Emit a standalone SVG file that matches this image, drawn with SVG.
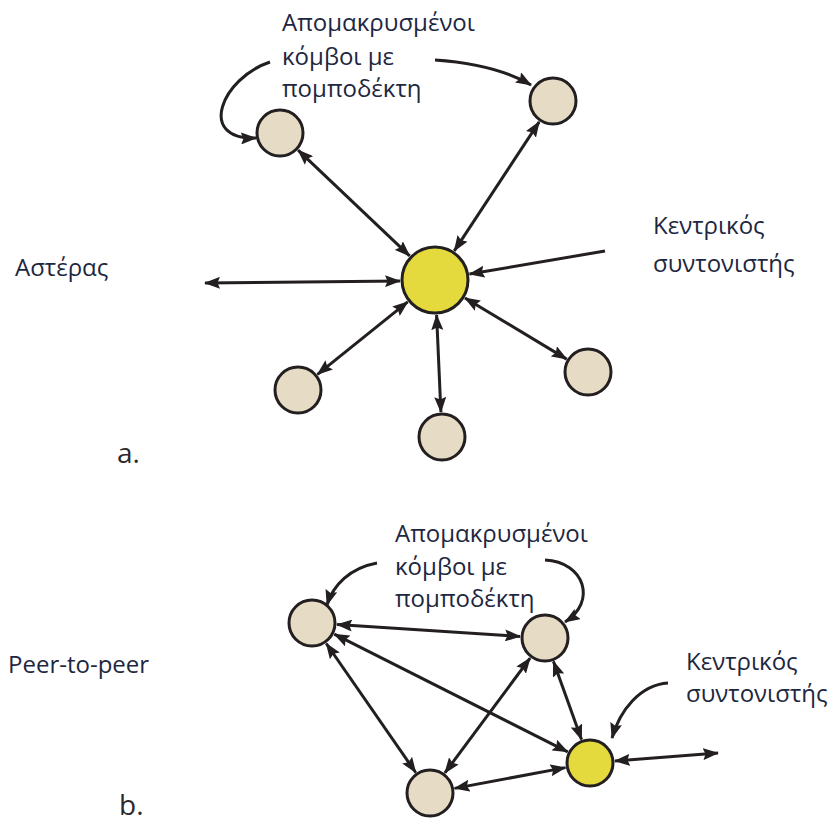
<svg xmlns="http://www.w3.org/2000/svg" width="830" height="823" viewBox="0 0 830 823">
  <style>
    .label { font-family: "Open Sans", "Noto Sans", sans-serif; font-size: 24px; fill: #1e2740; }
    .tag { font-family: "Open Sans", "Noto Sans", sans-serif; font-size: 28px; fill: #2a2a2a; }
    .peer { fill: #e6dbc4; stroke: #231f20; stroke-width: 3; }
    .coord { fill: #e4da3e; stroke: #231f20; stroke-width: 3; }
    .edge { fill: none; stroke: #231f20; stroke-width: 3; marker-end: url(#head); }
    .both { marker-start: url(#head); }
  </style>
  <defs>
    <marker id="head" markerUnits="userSpaceOnUse" markerWidth="16" markerHeight="12" refX="15" refY="6" orient="auto-start-reverse">
      <path d="M0,0 L16,6 L0,12 L2.5,6 z" fill="#231f20"/>
    </marker>
  </defs>
  <rect width="830" height="823" fill="#ffffff"/>

  <!-- connectors -->
  <g id="connectors">
    <!-- a. star -->
    <line class="edge both" x1="409.6" y1="255.9" x2="298.1" y2="150.2"/>
    <line class="edge both" x1="454.3" y1="250.8" x2="539.2" y2="121.9"/>
    <line class="edge both" x1="407.7" y1="301.9" x2="317.5" y2="374.3"/>
    <line class="edge both" x1="436.6" y1="315" x2="440.9" y2="412"/>
    <line class="edge both" x1="465" y1="298" x2="566.6" y2="359.1"/>
    <line class="edge both" x1="400" y1="281" x2="205" y2="283"/>
    <line class="edge" x1="605" y1="251" x2="469.5" y2="274.1"/>
    <path class="edge" d="M270,62 C222,78 196,140 256,138"/>
    <path class="edge" d="M435,60 Q495,64 531,85"/>
    <!-- b. peer-to-peer -->
    <line class="edge both" x1="337" y1="624.6" x2="520" y2="636.4"/>
    <line class="edge both" x1="334.3" y1="634.2" x2="567.7" y2="751.8"/>
    <line class="edge both" x1="326.3" y1="643.5" x2="415.7" y2="772.5"/>
    <line class="edge both" x1="530.1" y1="658.1" x2="444.9" y2="772.9"/>
    <line class="edge both" x1="553.5" y1="661.5" x2="581.5" y2="739.5"/>
    <line class="edge both" x1="454.6" y1="788.4" x2="565.4" y2="767.6"/>
    <line class="edge both" x1="614.9" y1="761" x2="718" y2="753"/>
    <path class="edge" d="M377,563 C350,568 333,585 327,605"/>
    <path class="edge" d="M545,560 C585,562 597,602 565,622"/>
    <path class="edge" d="M668,683 C640,685 620,710 612,738"/>
  </g>

  <!-- a. star nodes -->
  <g id="star-coordinator"><circle class="coord" cx="435" cy="280" r="33"/></g>
  <g id="star-node-1"><circle class="peer" cx="280" cy="133" r="23"/></g>
  <g id="star-node-2"><circle class="peer" cx="553" cy="101" r="23"/></g>
  <g id="star-node-3"><circle class="peer" cx="298" cy="390" r="23"/></g>
  <g id="star-node-4"><circle class="peer" cx="442" cy="437" r="23"/></g>
  <g id="star-node-5"><circle class="peer" cx="588" cy="372" r="23"/></g>

  <!-- b. peer-to-peer nodes -->
  <g id="p2p-node-1"><circle class="peer" cx="312" cy="623" r="23"/></g>
  <g id="p2p-node-2"><circle class="peer" cx="545" cy="638" r="23"/></g>
  <g id="p2p-node-3"><circle class="peer" cx="430" cy="793" r="23"/></g>
  <g id="p2p-coordinator"><circle class="coord" cx="590" cy="763" r="23"/></g>

  <!-- labels -->
  <g id="labels">
    <text class="label" x="282" y="31">Απομακρυσμένοι</text>
    <text class="label" x="282" y="65">κόμβοι με</text>
    <text class="label" x="282" y="97">πομποδέκτη</text>
    <text class="label" x="653" y="234">Κεντρικός</text>
    <text class="label" x="653" y="272">συντονιστής</text>
    <text class="label" x="15" y="276">Αστέρας</text>
    <text class="tag" x="117" y="463">a.</text>

    <text class="label" x="395" y="542">Απομακρυσμένοι</text>
    <text class="label" x="395" y="575">κόμβοι με</text>
    <text class="label" x="395" y="607">πομποδέκτη</text>
    <text class="label" x="686" y="670">Κεντρικός</text>
    <text class="label" x="686" y="702">συντονιστής</text>
    <text class="label" x="8" y="673">Peer-to-peer</text>
    <text class="tag" x="119" y="815">b.</text>
  </g>
</svg>
